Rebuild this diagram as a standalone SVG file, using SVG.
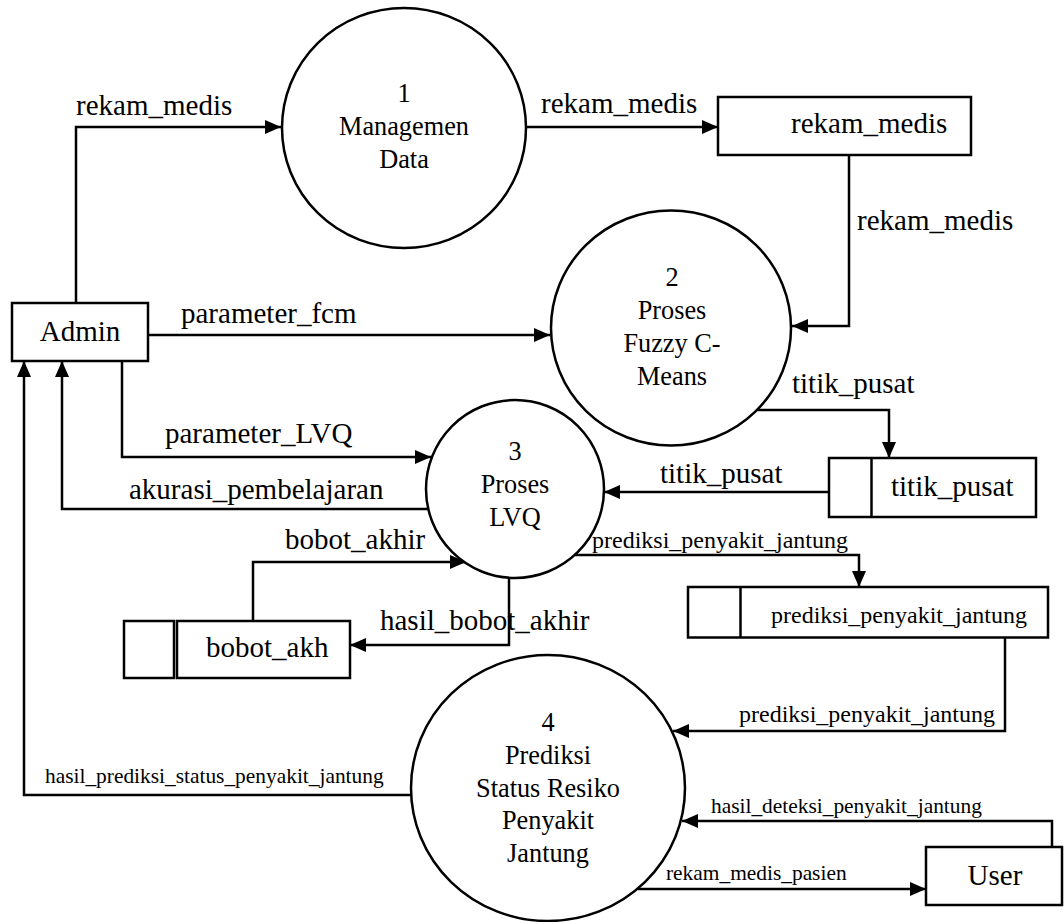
<svg xmlns="http://www.w3.org/2000/svg" width="1064" height="922" viewBox="0 0 1064 922">
  <style>
    .shape { fill: #ffffff; stroke: #000000; stroke-width: 2.5; }
    .flow { fill: none; stroke: #000000; stroke-width: 2.5; marker-end: url(#arrow); }
    .line { fill: none; stroke: #000000; stroke-width: 2.5; }
    text { font-family: "Liberation Serif", "Times New Roman", serif; fill: #000000; }
    .lbl { font-size: 29px; }
    .proc { font-size: 26.3px; text-anchor: middle; }
    .sm { font-size: 21.4px; }
    .md { font-size: 24px; }
  </style>
  <defs>
    <marker id="arrow" markerUnits="userSpaceOnUse" markerWidth="16" markerHeight="14" refX="16" refY="7" orient="auto">
      <path d="M0,0 L16,7 L0,14 Z" fill="#000000"/>
    </marker>
  </defs>
  <rect width="1064" height="922" fill="#ffffff"/>

  <!-- data flows -->
  <g id="connectors">
    <path class="flow" d="M76,303 V127 H281"/>
    <text class="lbl" x="76" y="115">rekam_medis</text>

    <path class="flow" d="M527,127 H718"/>
    <text class="lbl" x="541" y="113">rekam_medis</text>

    <path class="flow" d="M849,155 V326 H792"/>
    <text class="lbl" x="857" y="230">rekam_medis</text>

    <path class="flow" d="M148,335 H550"/>
    <text class="lbl" x="181" y="323">parameter_fcm</text>

    <path class="flow" d="M122,361 V457 H431"/>
    <text class="lbl" x="165" y="443">parameter_LVQ</text>

    <path class="flow" d="M428,509 H62 V361"/>
    <text class="lbl" x="129" y="499">akurasi_pembelajaran</text>

    <path class="flow" d="M253,621 V562 H466"/>
    <text class="lbl" x="285" y="549">bobot_akhir</text>

    <path class="flow" d="M509,577 V645 H350"/>
    <text class="lbl" x="380" y="630">hasil_bobot_akhir</text>

    <path class="flow" d="M758,410 H889 V458"/>
    <text class="lbl" x="792" y="393">titik_pusat</text>

    <path class="flow" d="M829,492 H604"/>
    <text class="lbl" x="660" y="483">titik_pusat</text>

    <path class="flow" d="M573,555 H859 V587"/>
    <text class="md" x="592" y="548">prediksi_penyakit_jantung</text>

    <path class="flow" d="M1005,638 V731 H673"/>
    <text class="md" x="739" y="722">prediksi_penyakit_jantung</text>

    <path class="flow" d="M412,795 H24 V361"/>
    <text class="sm" x="45" y="783">hasil_prediksi_status_penyakit_jantung</text>

    <path class="flow" d="M1052,847 V821 H682"/>
    <text class="sm" x="711" y="813">hasil_deteksi_penyakit_jantung</text>

    <path class="flow" d="M638,889 H926"/>
    <text class="sm" x="666" y="880">rekam_medis_pasien</text>
  </g>

  <!-- external entities -->
  <g id="admin">
    <rect class="shape" x="12" y="303" width="136" height="58"/>
    <text class="lbl" x="80" y="341" text-anchor="middle">Admin</text>
  </g>
  <g id="user">
    <rect class="shape" x="926" y="847" width="136" height="58"/>
    <text class="lbl" x="995" y="885" text-anchor="middle">User</text>
  </g>

  <!-- processes -->
  <g id="proc-1">
    <ellipse class="shape" cx="404" cy="128" rx="122" ry="120"/>
    <text class="proc" x="404" y="102">1</text>
    <text class="proc" x="404" y="135">Managemen</text>
    <text class="proc" x="404" y="168">Data</text>
  </g>
  <g id="proc-2">
    <ellipse class="shape" cx="671" cy="328" rx="120" ry="117.5"/>
    <text class="proc" x="672" y="286">2</text>
    <text class="proc" x="672" y="319">Proses</text>
    <text class="proc" x="672" y="352">Fuzzy C-</text>
    <text class="proc" x="672" y="385">Means</text>
  </g>
  <g id="proc-3">
    <circle class="shape" cx="515" cy="489" r="89"/>
    <text class="proc" x="515" y="460">3</text>
    <text class="proc" x="515" y="493">Proses</text>
    <text class="proc" x="515" y="526">LVQ</text>
  </g>
  <g id="proc-4">
    <ellipse class="shape" cx="548" cy="788" rx="137" ry="133"/>
    <text class="proc" x="548" y="731">4</text>
    <text class="proc" x="548" y="764">Prediksi</text>
    <text class="proc" x="548" y="797">Status Resiko</text>
    <text class="proc" x="548" y="829">Penyakit</text>
    <text class="proc" x="548" y="862">Jantung</text>
  </g>

  <!-- data stores -->
  <g id="store-rekam-medis">
    <rect class="shape" x="718" y="97" width="253" height="58"/>
    <text class="lbl" x="791" y="133">rekam_medis</text>
  </g>
  <g id="store-titik-pusat">
    <rect class="shape" x="829" y="458" width="207" height="59"/>
    <line class="line" x1="871.5" y1="458" x2="871.5" y2="517"/>
    <text class="lbl" x="891" y="496">titik_pusat</text>
  </g>
  <g id="store-prediksi">
    <rect class="shape" x="688" y="587" width="360" height="50.5"/>
    <line class="line" x1="740.5" y1="587" x2="740.5" y2="637.5"/>
    <text class="md" x="771" y="623">prediksi_penyakit_jantung</text>
  </g>
  <g id="store-bobot">
    <rect class="shape" x="124" y="621" width="50" height="57"/>
    <rect class="shape" x="177" y="621" width="173" height="57"/>
    <text class="lbl" x="206" y="657">bobot_akh</text>
  </g>
</svg>
